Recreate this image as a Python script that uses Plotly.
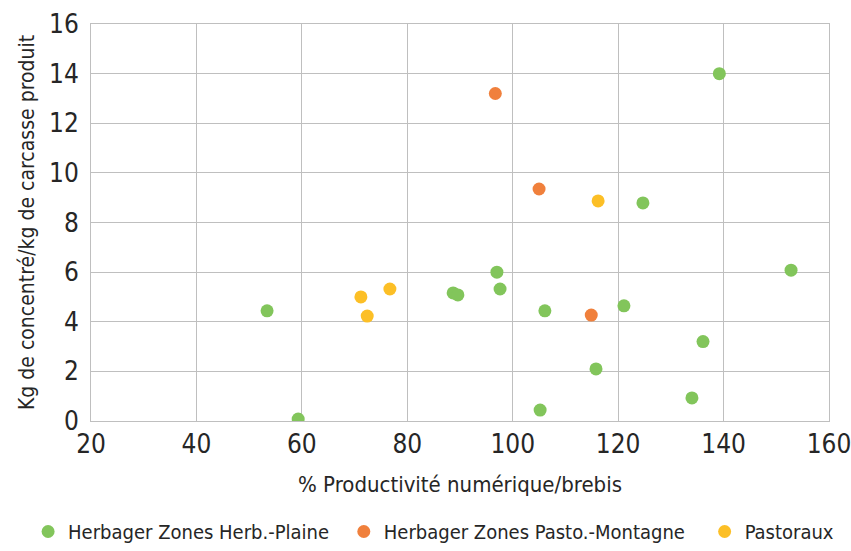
import plotly.graph_objects as go

herb_plaine_x = [53.4, 59.3, 88.7, 89.6, 97.0, 97.6, 106.1, 105.2, 115.8, 121.1, 124.7, 134.0, 136.1, 139.2, 152.8]
herb_plaine_y = [4.44, 0.08, 5.16, 5.08, 6.0, 5.32, 4.44, 0.44, 2.1, 4.64, 8.79, 0.93, 3.2, 14.0, 6.08]
herb_monta_x = [96.7, 105.0, 114.9]
herb_monta_y = [13.2, 9.35, 4.27]
pasto_x = [71.2, 72.4, 76.7, 116.2]
pasto_y = [5.0, 4.23, 5.32, 8.87]

names = ["Herbager Zones Herb.-Plaine", "Herbager Zones Pasto.-Montagne", "Pastoraux"]
colors = ["#82c55b", "#f0803c", "#fcbf26"]

font = "DejaVu Sans Condensed, Liberation Sans Narrow, sans-serif"

legend_ids = ["legend", "legend2", "legend3"]
legend_x = [0.033, 0.404, 0.828]

fig = go.Figure()
for i, (xs, ys) in enumerate([(herb_plaine_x, herb_plaine_y),
                              (herb_monta_x, herb_monta_y),
                              (pasto_x, pasto_y)]):
    fig.add_trace(go.Scatter(x=xs, y=ys, mode="markers", name=names[i],
                             legend=legend_ids[i],
                             marker=dict(size=13, color=colors[i], line=dict(width=0))))

leg_common = dict(orientation="h", xref="container", yref="container", y=0.0,
                  yanchor="bottom", xanchor="left", font=dict(size=20),
                  bgcolor="rgba(0,0,0,0)")
fig.update_layout(
    width=851, height=551,
    margin=dict(l=91, r=22, t=24, b=130, autoexpand=False),
    paper_bgcolor="white", plot_bgcolor="white",
    font=dict(family=font, color="#262626"),
    legend=dict(x=legend_x[0], **leg_common),
    legend2=dict(x=legend_x[1], **leg_common),
    legend3=dict(x=legend_x[2], **leg_common),
    showlegend=True,
)
fig.update_xaxes(range=[20, 160], dtick=20, tick0=20, showgrid=True, gridcolor="#bfbfbf",
                 gridwidth=1, showline=True, linecolor="#bfbfbf", mirror=True,
                 zeroline=False, ticks="", tickfont=dict(size=26), ticklabeloverflow="allow",
                 title=dict(text="% Productivité numérique/brebis", font=dict(size=22), standoff=18))
fig.update_yaxes(range=[0, 16], dtick=2, showgrid=True, gridcolor="#bfbfbf",
                 gridwidth=1, showline=True, linecolor="#bfbfbf", mirror=True,
                 zeroline=False, ticks="", tickfont=dict(size=26), ticklabelstandoff=6,
                 ticklabeloverflow="allow",
                 title=dict(text="Kg de concentré/kg de carcasse produit", font=dict(size=21), standoff=8))

fig.write_html("out.html")
